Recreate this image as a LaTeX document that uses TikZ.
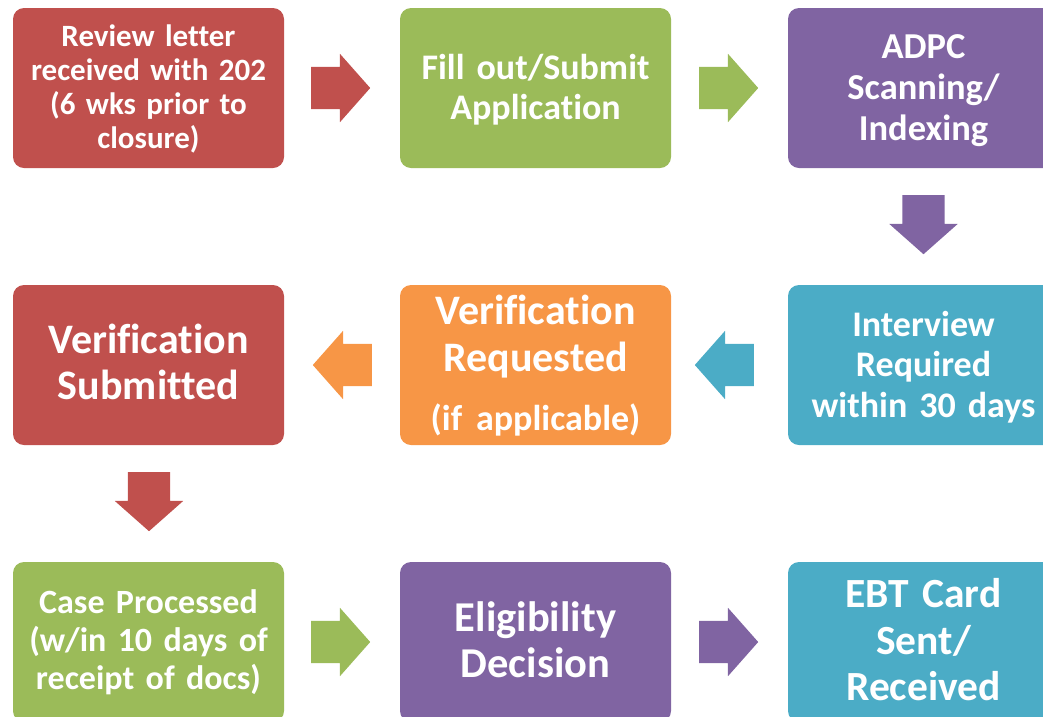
\documentclass[tikz,border=0pt]{standalone}
\usepackage{fontspec}
\setmainfont{Carlito}[Ligatures=NoCommon]
\usetikzlibrary{shapes.arrows}
\definecolor{cred}{HTML}{C0504D}
\definecolor{cgreen}{HTML}{9BBB59}
\definecolor{cpurple}{HTML}{8064A2}
\definecolor{cteal}{HTML}{4BACC6}
\definecolor{corange}{HTML}{F79646}
\tikzset{
  stepbox/.style={rounded corners=11pt, minimum width=271pt, minimum height=160pt,
    inner sep=0pt, text=white, align=center, text width=265pt},
  blockarrow/.style={single arrow, minimum height=59pt, minimum width=68pt,
    inner xsep=0pt, inner ysep=21pt, anchor=tail,
    single arrow head extend=13pt, single arrow tip angle=97, draw=none},
}
\begin{document}
\begin{tikzpicture}[x=1pt,y=-1pt]
\useasboundingbox (0,0) rectangle (1043,716);
\clip (0,0) rectangle (1043,716);
% row 1
\node[stepbox, fill=cred, font=\bfseries\fontsize{31}{34}\selectfont] (b1) at (148.5,88)
  {Review letter\\received with 202\\(6 wks prior to\\closure)\par\vspace{-2pt}};
\node[stepbox, fill=cgreen, font=\bfseries\fontsize{36}{40}\selectfont] (b2) at (535.5,88)
  {Fill out/Submit\\Application\par\vspace{-4pt}};
\node[stepbox, fill=cpurple, font=\bfseries\fontsize{36.5}{41}\selectfont] (b3) at (923.5,88)
  {ADPC\\Scanning/\\Indexing\par\vspace{-5pt}};
% row 2
\node[stepbox, fill=cteal, font=\bfseries\fontsize{36}{40.5}\selectfont] (b6) at (923.5,365)
  {Interview\\Required\\within 30 days\par\vspace{-4pt}};
\node[stepbox, fill=corange, font=\bfseries\fontsize{42}{47}\selectfont] (b5) at (535.5,365)
  {Verification\\Requested\\[12pt]{\fontsize{36}{39}\selectfont (if applicable)}\par\vspace{-1pt}};
\node[stepbox, fill=cred, font=\bfseries\fontsize{42}{46}\selectfont] (b4) at (148.5,365)
  {Verification\\Submitted\par\vspace{6pt}};
% row 3
\node[stepbox, fill=cgreen, font=\bfseries\fontsize{34}{38}\selectfont] (b7) at (148.5,642)
  {Case Processed\\(w/in 10 days of\\receipt of docs)};
\node[stepbox, fill=cpurple, font=\bfseries\fontsize{42.5}{46}\selectfont] (b8) at (535.5,642)
  {Eligibility\\Decision\par\vspace{5pt}};
\node[stepbox, fill=cteal, font=\bfseries\fontsize{41.5}{46.5}\selectfont] (b9) at (923.5,642)
  {EBT Card\\Sent/\\Received\par\vspace{4pt}};
% block arrows (placed by their tails)
\node[blockarrow, fill=cred] (a1) at (311,88) {};
\node[blockarrow, fill=cgreen] (a2) at (699,88) {};
\node[blockarrow, fill=cpurple, rotate=-90] (a3) at (923.5,195) {};
\node[blockarrow, fill=cteal, rotate=180] (a4) at (754,365) {};
\node[blockarrow, fill=corange, rotate=180] (a5) at (372,365) {};
\node[blockarrow, fill=cred, rotate=-90] (a6) at (149,472) {};
\node[blockarrow, fill=cgreen] (a7) at (311,642) {};
\node[blockarrow, fill=cpurple] (a8) at (699,642) {};
\end{tikzpicture}
\end{document}
